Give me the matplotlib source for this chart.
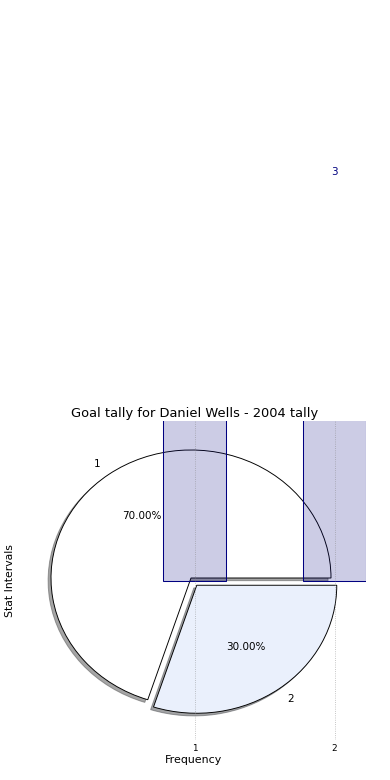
import matplotlib
matplotlib.use("Agg")
import matplotlib.pyplot as plt

player = "Daniel Wells"
season = 2004
intervals = ["1", "2"]
goals = [7, 3]
bar_x = [1, 2]
wedge_colors = ["white", "#eaf0fc"]
explode = [0, 0.07]

fig = plt.figure(figsize=(5.2, 10.4), dpi=75)

# pie sits on its own axes, bars on a second one laid over it
ax_pie = fig.add_axes([16 / 390, 42 / 780, 350 / 390, 320 / 780])
ax_pie.pie(goals, labels=intervals, autopct="%.2f%%", explode=explode,
           shadow=True, colors=wedge_colors,
           wedgeprops={"edgecolor": "black", "linewidth": 0.9})
ax_pie.set_aspect("auto")
ax_pie.set_xlim(-1.25, 1.25)
ax_pie.set_ylim(-1.25, 1.25)

ax = fig.add_axes([16 / 390, 40 / 780, 350 / 390, 319 / 780])
ax.patch.set_visible(False)
ax.bar(bar_x, goals, width=0.45, color=(0, 0, 0.5, 0.2),
       edgecolor="navy", linewidth=1)
ax.set_xlim(-0.275, 2.225)
ax.set_ylim(-1.25, 1.25)

top_visible = ax.transData.inverted().transform((0, fig.bbox.height))[1]
for x, g in zip(bar_x, goals):
    if g + 0.3 < top_visible:
        ax.text(x, g + 0.2, str(g), ha="center", va="center", color="navy")

ax.set_xticks(bar_x)
ax.set_xticklabels(intervals)
ax.set_yticks([])
ax.tick_params(length=0, labelsize=8.5)
ax.set_frame_on(False)
ax.grid(axis="x", linestyle=":", color="gray", alpha=0.6)

ax.set_title(f"Goal tally for {player} - {season} tally", fontsize=12.5, pad=4, x=0.51)
ax.set_xlabel("Frequency", fontsize=10.5, labelpad=2)
ax.xaxis.label.set_x(0.508)
ax.set_ylabel("Stat Intervals", fontsize=10.4)
ax.yaxis.set_label_coords(-0.003, 0.5)

fig.savefig("out.png", dpi=75)
